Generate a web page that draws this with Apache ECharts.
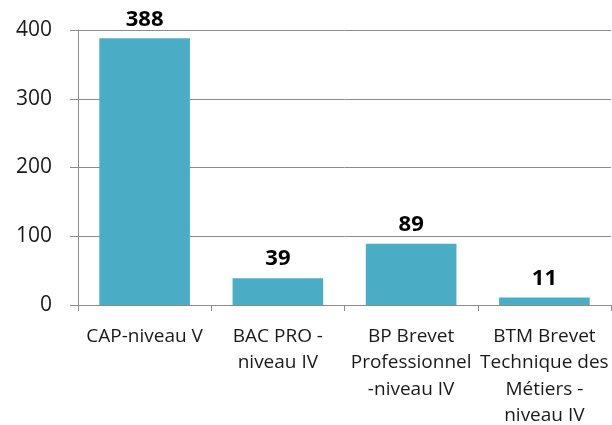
<!DOCTYPE html>
<html>
<head>
<meta charset="utf-8">
<script src="https://cdn.jsdelivr.net/npm/echarts@6/dist/echarts.min.js"></script>
<style>
  html, body { margin: 0; padding: 0; background: #fff; }
  #chart { width: 612px; height: 425px; }
</style>
</head>
<body>
<div id="chart"></div>
<script>
// Diploma levels and counts
const categories = [
  'CAP-niveau V',
  'BAC PRO -\nniveau IV',
  'BP Brevet\nProfessionnel\n-niveau IV',
  'BTM Brevet\nTechnique des\nMétiers -\nniveau IV'
];
const counts = [388, 39, 89, 11];
const yTicks = [0, 100, 200, 300, 400];

const FONT = '"Open Sans", "Noto Sans", sans-serif';
const AXIS_GRAY = '#8c8c8c';

const chart = echarts.init(document.getElementById('chart'), null, { renderer: 'canvas' });
chart.setOption({
  animation: false,
  backgroundColor: '#ffffff',
  grid: {
    left: 78, right: 1, top: 30, bottom: 120,
    containLabel: false,
    outerBoundsMode: 'none'
  },
  xAxis: {
    type: 'category',
    data: categories,
    axisLine: { lineStyle: { color: AXIS_GRAY, width: 1 } },
    axisTick: { show: true, length: 6, lineStyle: { color: AXIS_GRAY } },
    axisLabel: {
      color: '#1a1a1a',
      fontFamily: FONT,
      fontSize: 19,
      lineHeight: 26.5,
      margin: 18,
      interval: 0
    }
  },
  yAxis: {
    type: 'value',
    min: yTicks[0],
    max: yTicks[yTicks.length - 1],
    interval: 100,
    axisLine: { show: true, lineStyle: { color: AXIS_GRAY, width: 1 } },
    axisTick: { show: true, length: 8, lineStyle: { color: AXIS_GRAY } },
    splitLine: { show: true, lineStyle: { color: AXIS_GRAY, width: 1 } },
    axisLabel: {
      color: '#1a1a1a',
      fontFamily: FONT,
      fontSize: 21,
      margin: 26
    }
  },
  series: [{
    type: 'bar',
    data: counts,
    barCategoryGap: '32%',
    itemStyle: { color: '#4BACC6' },
    label: {
      show: true,
      position: 'top',
      distance: 8,
      color: '#000',
      fontFamily: FONT,
      fontWeight: 'bold',
      fontSize: 22
    }
  }]
});
</script>
</body>
</html>
